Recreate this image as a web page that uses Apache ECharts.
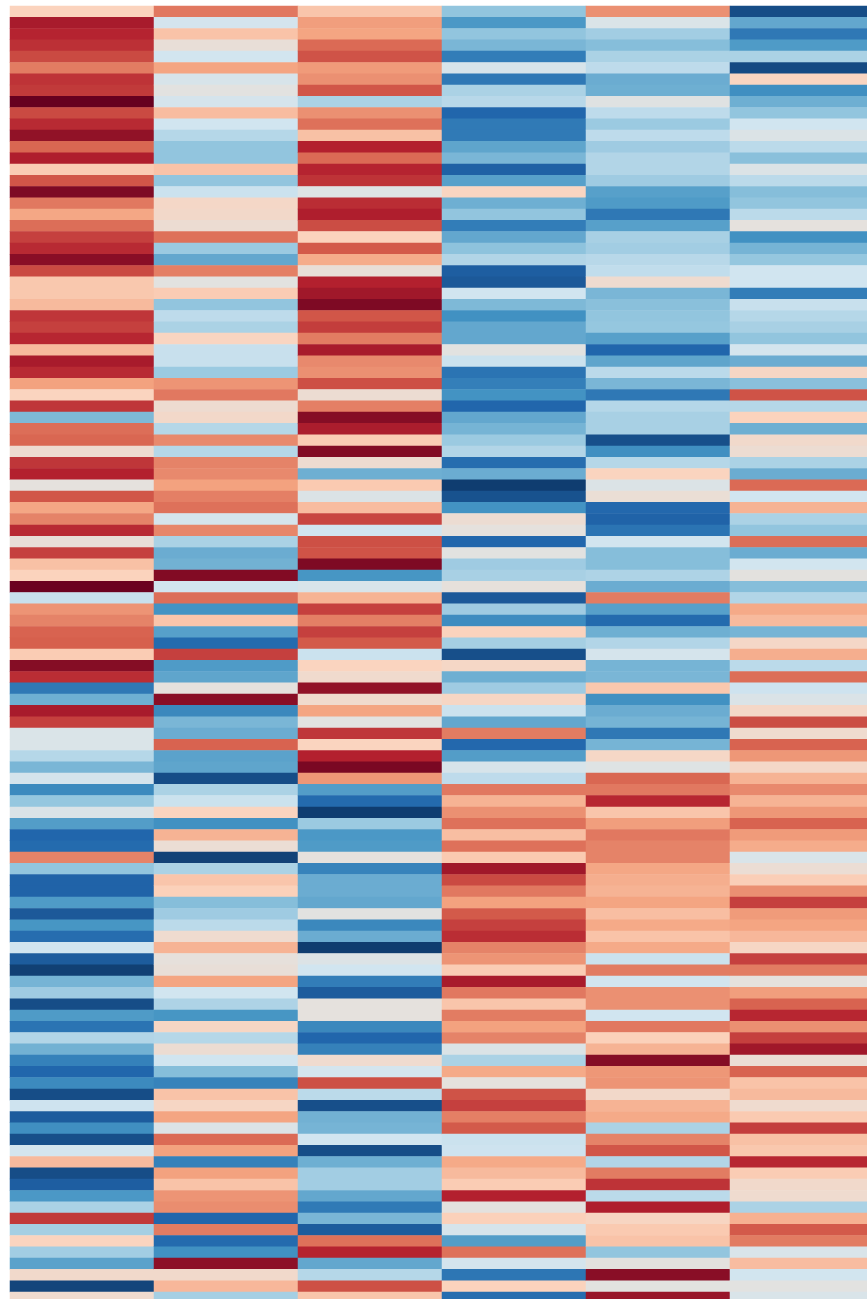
<!DOCTYPE html>
<html><head><meta charset="utf-8">
<style>html,body{margin:0;padding:0;background:#fff;overflow:hidden;width:867px;height:1299px}#c{width:900px;height:1330px}</style>
<script src="https://cdn.jsdelivr.net/npm/echarts@6/dist/echarts.min.js"></script>
</head><body><div id="c"></div>
<script>
const col1=[2,8.3,7.9,7.5,6.7,5.2,7.4,7.2,10,6.7,
7.7,8.9,5.8,8.1,2.3,6.3,9.4,5.3,3.9,5.6,
7,7.7,9.1,6.7,2.5,2.5,3.1,7.3,7,7.8,
3.1,8.3,7.7,4.1,1.9,7.3,-4.5,5.6,5.8,.9,
7.3,8,.2,6.3,3.9,5,7.7,.5,7,2.8,
2,9.9,-2.3,4.5,5,5.9,6,2.3,9.2,7.6,
-7.2,-4.9,8.3,7,-1,-1,-2.9,-4.6,-1.5,-6.4,
-3.9,-.9,-5.6,-8,-7.8,5,-4,-8.1,-8.1,-5.7,
-8.5,-5.9,-7.7,-2,-8.4,-9.5,-4.7,-3.6,-9,-5.7,
-7.4,-3,-4.8,-6.8,-8,-6.4,-9,-2.1,-8.4,-6.2,
-8.9,-1.7,3.1,-9,-8.3,-5.8,-3.2,7.2,-3.4,1.9,
-3.5,-5.4,1.2,-9.3,1];
const col2=[5.3,-1.6,2.7,.5,-1.9,4,-1.3,0,-1.5,3,
-2,-2.9,-4,-4,2.7,-4,-2.2,1.4,1.3,.8,
5.5,-3.7,-5.2,5.1,0,2.3,-4,-2.6,-3.2,1.8,
-2.3,-2.3,-3.7,4.5,5.3,.9,1.3,-2.9,4.8,-2.9,
5,4.8,4.1,5.1,5.5,-1.5,4.9,-3.2,-5,-4.8,
9.3,-1.9,5.6,-6,2.6,-5.5,-7.8,7,-5.7,-5.3,
.2,9.1,-6.5,-4.6,-5,5.9,-5.4,-5.3,-9,-3.2,
-2.2,1.9,-6.1,3.4,.7,-9.4,-3.2,2.6,2.1,-4.3,
-3.6,-2.7,1,3.4,.3,.5,4,-2,-3.1,-5.9,
1.6,-2.9,.8,-2,-4.3,-6.7,2.7,1.6,4,-.7,
5.7,4.1,-6.8,4.1,2.7,4.5,4.7,-8,5.2,-7.8,
-6.1,9,1.2,3.2,-3.4];
const col3=[2.6,4.2,4,5.7,6.4,4.3,4.6,6.3,-3.2,4.6,
5.5,2.8,8,5.7,7.9,7.4,-.5,7.6,8.1,6.6,
2,6.2,3.7,.5,8,8.5,9.4,6.3,7.1,5.2,
8.3,4.8,4.6,6.5,.8,5.1,9.2,8.2,2.3,9.3,
.9,-4.9,2.4,-.8,3,6.8,-2,6.5,6.4,9.4,
-5.9,-1.2,3.4,7,5.1,7,6.2,-2.2,1.9,1.1,
8.9,1.1,4,0,7.3,1.9,8,9.5,4.4,-5.6,
-7.8,-9.6,-3.7,-5.8,-5.7,.2,-6.7,-5,-5,-5.2,
0,-6.5,-5,-9.6,-.7,-2,-7,-8.4,.2,.2,
-6.5,-8,-6.8,1,-1.7,6.5,-2.7,-8.9,-4.8,-4.7,
-2,-9,-4.9,-3.5,-3.5,-5.2,-7.1,-4.6,-8.4,5.5,
7.9,-5.2,-2.9,6.5,2.6];
const col4=[-4,-5.8,-4,-4.6,-7,-1.3,-7.2,-3.2,-2.8,-8,
-7.1,-7.1,-5.3,-4.6,-8.2,-5.5,1.8,-4.9,-4,-7,
-5.2,-4.1,-3,-8.3,-8.5,-2,-4.5,-6.1,-5.2,-5.2,
0,-2.2,-7.4,-6.9,-6,-8,-5.2,-4.7,-3.7,-3,
-7.7,-5,-9.6,-8.8,-6,.8,.2,-8,0,-3.6,
-3.3,.3,-8.5,-3.6,-6.3,2,-3.4,-8.9,1.5,-4.9,
-3.6,1.6,-2.2,-5.2,5.2,-7.9,-5.6,-1.3,-2.6,5.3,
3.4,4.6,5.5,2.9,5.5,2.4,8.5,6.7,5.3,4.1,
6.2,7,7.6,5,4.5,2.3,8.3,5.3,2.6,5.2,
4.1,5,-.8,-3.2,3.8,.2,6.4,7,5.1,6.2,
-2.2,-2.1,3.8,3.1,2.3,8,.1,2.1,-1.4,-5.6,
5.5,-1.6,-7.3,2,-7.7];
const col5=[4.6,-1,-3.5,-4.3,-3.2,-2.6,-5,-4.9,-.3,-2.6,
-3.7,-2.6,-3.6,-3,-3,-3.6,-5.5,-5.7,-7.2,-5.5,
-3.3,-3.5,-2.8,-2.5,1,-4.6,-4.2,-4,-3.9,-5.5,
-8,-5.3,-2.7,-4.6,-7.2,-2.9,-3.3,-3.3,-8.9,-6.2,
-2.9,1.9,-.8,.6,-7.9,-8.1,-7.4,-1.9,-4.3,-4.3,
-3.1,-5,5.2,-5.5,-7.8,-4.9,-3,-1.5,-4.7,-4.6,
2.5,-6.1,-5,-4.7,-7.2,-4.7,1.5,-.5,5.8,5.3,
7.8,2.6,4.2,5.3,5,5,3.9,3.6,3.4,4,
2.9,3.8,2.7,3.8,-2.2,5.2,-1.9,4.6,4.6,-2,
5.3,2.1,3.4,9.2,4.4,4.5,1.3,3.4,3.8,-3.2,
5,6.3,-3,5.2,7.4,-2.7,8.1,1.7,2.4,2.7,
-4,.1,9.1,0,8.7];
const col6=[-9,-5.2,-7.2,-5.7,-3.2,-9.1,1.8,-6.2,-4.9,-4,
-2,-.8,-2.7,-4.2,-.8,-2.7,-4.3,-4,-2.7,.2,
-6.1,-4.7,-3.9,-2,-2,-7,-2.3,-2.9,-3.3,-4,
-1.7,-5,1.6,-4.2,6.4,-2.9,2,-4.9,1.2,.8,
-3.2,-5,5.7,-2,3.4,-3.2,-4,5.6,-5,-1.9,
.1,-4.3,-3,3.8,3.1,-4.7,1.4,3.6,-2.7,5.6,
-2.1,-.9,1.4,6.6,1,5.9,4.4,1.4,3.4,4.8,
3.4,4.4,5.9,4.3,3.7,-1.1,.7,2.2,4.6,7,
4.3,4,3.2,1.6,7,5.2,.2,4.2,5.9,7.8,
4.6,7,8.5,.7,5.9,2.7,3.1,1,2.4,7.1,
2.8,2.5,7.8,2.3,1.2,1,-3.2,3.5,6.2,5.2,
-1.1,3,-1.9,0,-1.1];
const columns=[col1,col2,col3,col4,col5,col6];
const xCats=columns.map((_,i)=>String(i));
const yCats=col1.map((_,i)=>String(i));
const palette=['#0b3361','#2166ac','#4393c3','#92c5de','#d1e5f0','#e2e2e0','#fbd3bd','#f4a582','#d6604d','#b3202e','#67001f'];
const cells=[];
columns.forEach((col,x)=>col.forEach((v,y)=>cells.push([x,y,v])));
const chart=echarts.init(document.getElementById('c'),null,{renderer:'canvas'});
chart.setOption({
  animation:false,
  backgroundColor:'#fff',
  grid:{left:10,top:6,width:864,height:1297.2,containLabel:false},
  xAxis:{type:'category',data:xCats,show:false,splitArea:{show:false}},
  yAxis:{type:'category',data:yCats,inverse:true,show:false,splitArea:{show:false}},
  visualMap:{show:false,min:-10,max:10,inRange:{color:palette},calculable:false,seriesIndex:0,dimension:2},
  series:[{type:'heatmap',data:cells,progressive:0,silent:true,itemStyle:{borderWidth:0}}]
});
</script></body></html>
